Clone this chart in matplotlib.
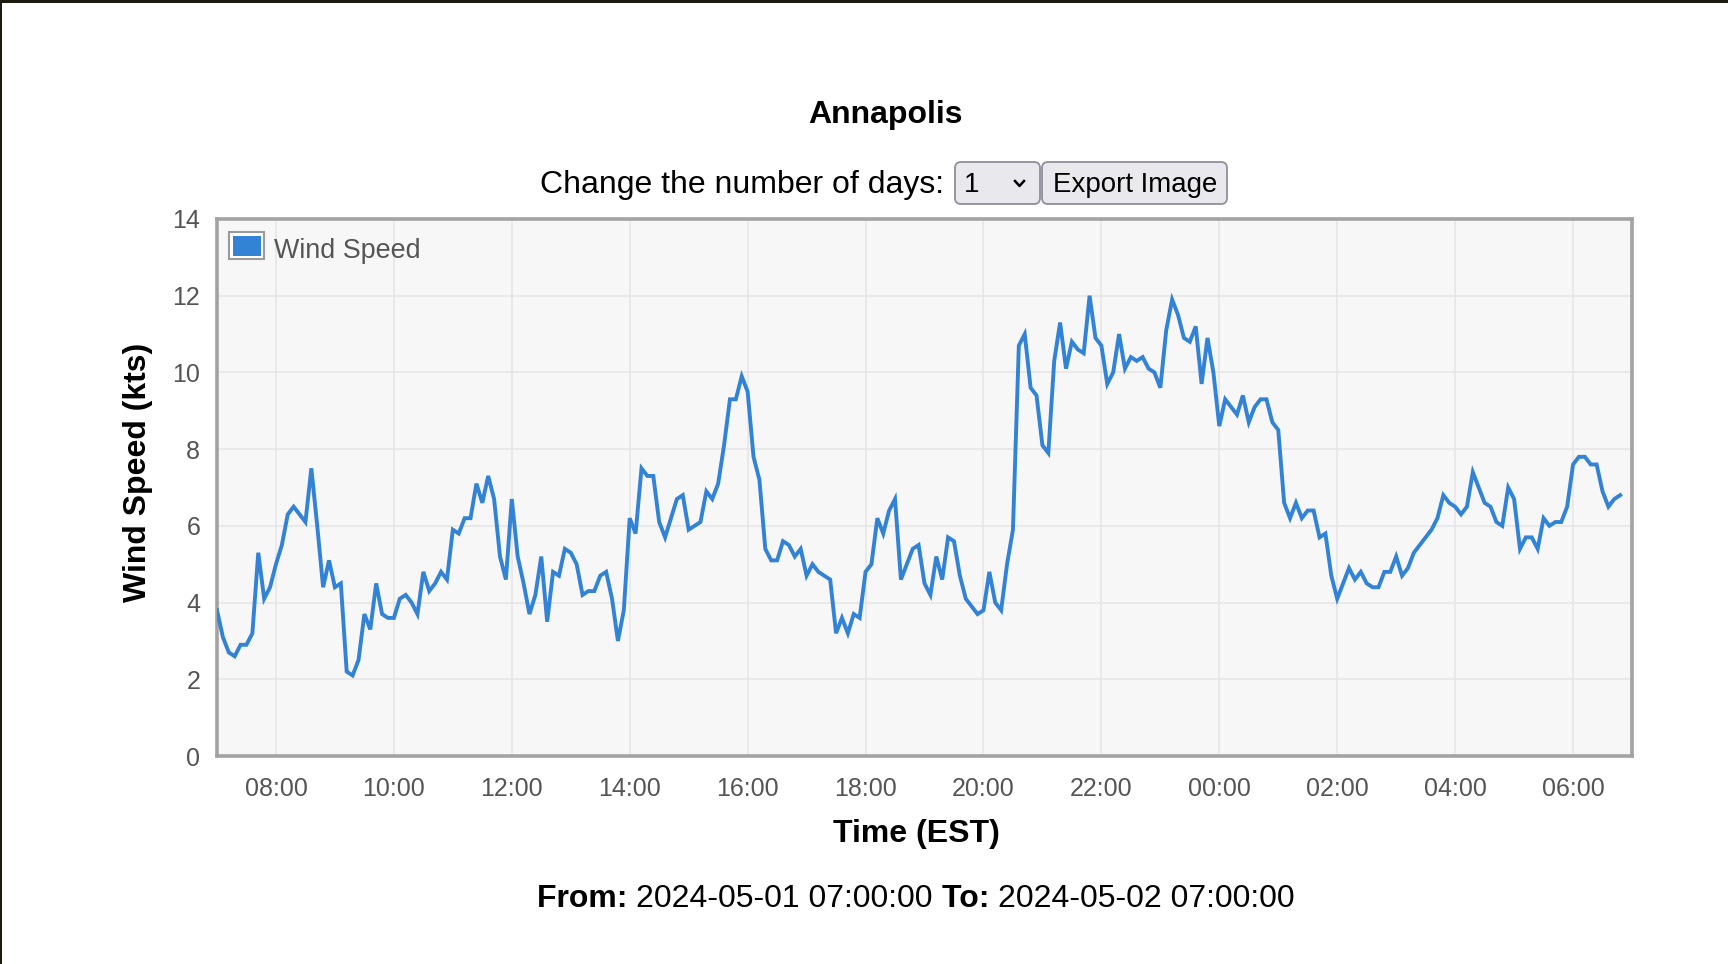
import numpy as np
import pandas as pd
import matplotlib
matplotlib.use('Agg')
import matplotlib.pyplot as plt
import matplotlib.dates as mdates
from matplotlib.patches import FancyBboxPatch, Rectangle

plt.rcParams['font.family'] = ['Liberation Sans', 'DejaVu Sans']

station = 'Annapolis'
start_time = '2024-05-01 07:00:00'
end_time = '2024-05-02 07:00:00'
series_name = 'Wind Speed'
# wind speed (kts), one reading every 6 minutes starting 07:00
wind_speed = [
    3.8, 3.1, 2.7, 2.6, 2.9, 2.9, 3.2, 5.3, 4.1, 4.4,
    5.0, 5.5, 6.3, 6.5, 6.3, 6.1, 7.5, 6.0, 4.4, 5.1,
    4.4, 4.5, 2.2, 2.1, 2.5, 3.7, 3.3, 4.5, 3.7, 3.6,
    3.6, 4.1, 4.2, 4.0, 3.7, 4.8, 4.3, 4.5, 4.8, 4.6,
    5.9, 5.8, 6.2, 6.2, 7.1, 6.6, 7.3, 6.7, 5.2, 4.6,
    6.7, 5.2, 4.5, 3.7, 4.2, 5.2, 3.5, 4.8, 4.7, 5.4,
    5.3, 5.0, 4.2, 4.3, 4.3, 4.7, 4.8, 4.1, 3.0, 3.8,
    6.2, 5.8, 7.5, 7.3, 7.3, 6.1, 5.7, 6.2, 6.7, 6.8,
    5.9, 6.0, 6.1, 6.9, 6.7, 7.1, 8.1, 9.3, 9.3, 9.9,
    9.5, 7.8, 7.2, 5.4, 5.1, 5.1, 5.6, 5.5, 5.2, 5.4,
    4.7, 5.0, 4.8, 4.7, 4.6, 3.2, 3.6, 3.2, 3.7, 3.6,
    4.8, 5.0, 6.2, 5.8, 6.4, 6.7, 4.6, 5.0, 5.4, 5.5,
    4.5, 4.2, 5.2, 4.6, 5.7, 5.6, 4.7, 4.1, 3.9, 3.7,
    3.8, 4.8, 4.0, 3.8, 5.0, 5.9, 10.7, 11.0, 9.6, 9.4,
    8.1, 7.9, 10.3, 11.3, 10.1, 10.8, 10.6, 10.5, 12.0, 10.9,
    10.7, 9.7, 10.0, 11.0, 10.1, 10.4, 10.3, 10.4, 10.1, 10.0,
    9.6, 11.1, 11.9, 11.5, 10.9, 10.8, 11.2, 9.7, 10.9, 10.0,
    8.6, 9.3, 9.1, 8.9, 9.4, 8.7, 9.1, 9.3, 9.3, 8.7,
    8.5, 6.6, 6.2, 6.6, 6.2, 6.4, 6.4, 5.7, 5.8, 4.7,
    4.1, 4.5, 4.9, 4.6, 4.8, 4.5, 4.4, 4.4, 4.8, 4.8,
    5.2, 4.7, 4.9, 5.3, 5.5, 5.7, 5.9, 6.2, 6.8, 6.6,
    6.5, 6.3, 6.5, 7.4, 7.0, 6.6, 6.5, 6.1, 6.0, 7.0,
    6.7, 5.4, 5.7, 5.7, 5.4, 6.2, 6.0, 6.1, 6.1, 6.5,
    7.6, 7.8, 7.8, 7.6, 7.6, 6.9, 6.5, 6.7, 6.8,
]
y_ticks = [0, 2, 4, 6, 8, 10, 12, 14]

times = pd.date_range(start_time, periods=len(wind_speed), freq='6min')

W, H = 1728, 964
fig = plt.figure(figsize=(W / 100, H / 100), dpi=100)
fig.patch.set_facecolor('white')

# chart area
ax = fig.add_axes([217 / W, 1 - 756 / H, 1415 / W, 537 / H])
ax.set_facecolor('#f7f7f7')
ax.plot(times, wind_speed, color='#3282d6', linewidth=2.8, solid_joinstyle='miter', zorder=3)
ax.set_xlim(pd.Timestamp(start_time), pd.Timestamp(end_time))
ax.set_ylim(0, 14)
ax.set_yticks(y_ticks)
ax.xaxis.set_major_locator(mdates.HourLocator(byhour=range(0, 24, 2)))
ax.xaxis.set_major_formatter(mdates.DateFormatter('%H:%M'))
ax.grid(True, color='#e6e6e6', linewidth=1.1)
ax.set_axisbelow(True)
for s in ax.spines.values():
    s.set_color('#a3a3a3')
    s.set_linewidth(2.6)
ax.tick_params(length=0, labelsize=18, labelcolor='#555555')
ax.tick_params(axis='y', pad=12)
ax.tick_params(axis='x', pad=15)
ax.set_ylabel('Wind Speed (kts)', fontsize=23, fontweight='bold', va='center')
ax.yaxis.set_label_coords(-0.056, 0.528)
ax.set_xlabel('Time (EST)', fontsize=23, fontweight='bold', va='center')
ax.xaxis.set_label_coords(0.494, -0.146)

# page elements in pixel coordinates
ui = fig.add_axes([0, 0, 1, 1], zorder=5)
ui.set_xlim(0, W)
ui.set_ylim(H, 0)
ui.axis('off')
ui.patch.set_alpha(0)

# window frame edge
ui.add_patch(Rectangle((0, 0), W, 3, color='#1e1a12', lw=0))
ui.add_patch(Rectangle((0, 0), 2, H, color='#1e1a12', lw=0))

ui.text(885, 115, station, fontsize=23, fontweight='bold', ha='center', va='center')
ui.text(944, 185, 'Change the number of days:', fontsize=23, ha='right', va='center')

ui.add_patch(FancyBboxPatch((955, 162), 85, 42, boxstyle='round,pad=0,rounding_size=6',
                            fc='#e9e9ed', ec='#8f8f9d', lw=1.3))
ui.text(972, 185, '1', fontsize=20, ha='center', va='center')
ui.plot([1015, 1019.5, 1024], [181, 186, 181], color='black', lw=1.8)

ui.add_patch(FancyBboxPatch((1042, 162), 185, 42, boxstyle='round,pad=0,rounding_size=6',
                            fc='#e9e9ed', ec='#8f8f9d', lw=1.3))
ui.text(1135, 185, 'Export Image', fontsize=19.9, ha='center', va='center')

# legend
ui.add_patch(Rectangle((229, 232), 35, 27, fc='white', ec='#9a9a9a', lw=1.5))
ui.add_patch(Rectangle((232.5, 235.5), 28, 20, fc='#3282d6', lw=0))
ui.text(274, 251, series_name, fontsize=19.4, color='#555555', ha='left', va='center')

# footer with date range
t1 = ui.text(537, 907, 'From: ', fontsize=23, fontweight='bold', ha='left', va='baseline')
t2 = ui.annotate(start_time + ' ', xy=(1, 0), xycoords=t1, fontsize=23, ha='left', va='bottom')
t3 = ui.annotate('To: ', xy=(1, 0), xycoords=t2, fontsize=23, fontweight='bold', ha='left', va='bottom')
ui.annotate(end_time, xy=(1, 0), xycoords=t3, fontsize=23, ha='left', va='bottom')

fig.savefig('out.png', dpi=100)
